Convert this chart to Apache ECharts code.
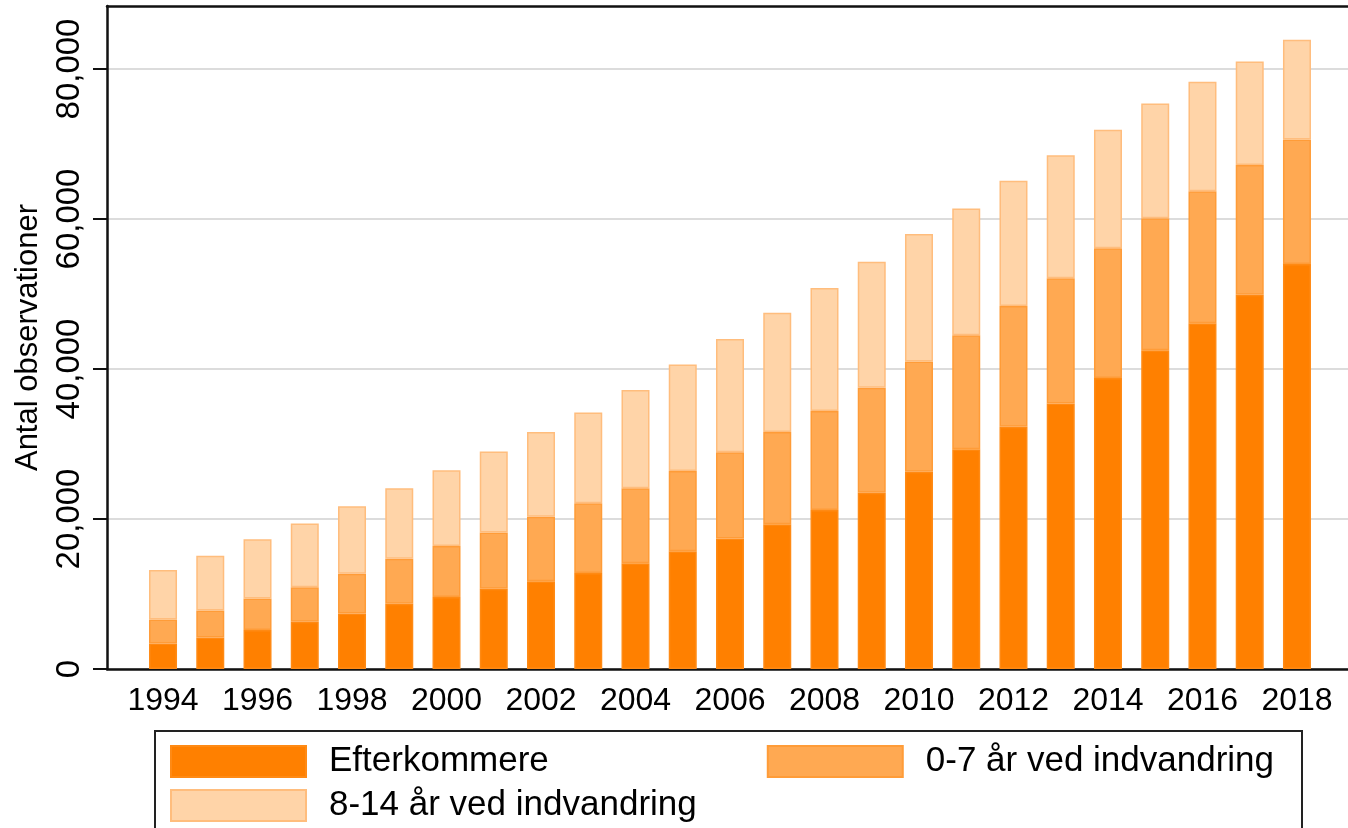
<!DOCTYPE html>
<html>
<head>
<meta charset="utf-8">
<script src="https://cdn.jsdelivr.net/npm/echarts@6/dist/echarts.min.js"></script>
<style>
  html, body { margin: 0; padding: 0; background: #fff; }
  #chart { width: 1348px; height: 828px; }
</style>
</head>
<body>
<div id="chart"></div>
<script>
const years = ['1994', '1995', '1996', '1997', '1998', '1999', '2000', '2001', '2002', '2003', '2004', '2005',
  '2006', '2007', '2008', '2009', '2010', '2011', '2012', '2013', '2014', '2015', '2016', '2017', '2018'];
const yTicks = [0, 20000, 40000, 60000, 80000];

// bund: efterkommere
const efterkommere = [3400, 4200, 5200, 6300, 7400, 8700, 9600, 10700, 11700, 12800, 14100, 15700,
  17400, 19300, 21200, 23500, 26300, 29300, 32300, 35400, 38800, 42500, 46100, 49900, 54000];
// midten: 0-7 aar ved indvandring
const aar0til7 = [3200, 3600, 4200, 4600, 5300, 6000, 6800, 7500, 8600, 9300, 10000, 10700,
  11500, 12300, 13200, 14000, 14700, 15200, 16100, 16700, 17300, 17600, 17600, 17300, 16600];
// top: 8-14 aar ved indvandring
const aar8til14 = [6600, 7300, 7900, 8500, 9000, 9400, 10100, 10800, 11300, 12100, 13100, 14200,
  15100, 15900, 16400, 16800, 17000, 16900, 16700, 16400, 15800, 15300, 14600, 13800, 13300];

const names = ['Efterkommere', '0-7 år ved indvandring', '8-14 år ved indvandring'];
const fills = ['#ff8000', '#ffa952', '#ffd4a8'];
const borders = ['#ff8a14', '#ff9c38', '#ffbd7d'];

const yMax = 88400;
const font = 'Liberation Sans, Arial, sans-serif';
const chart = echarts.init(document.getElementById('chart'));

function makeSeries(i, vals) {
  return {
    name: names[i],
    type: 'bar',
    stack: 'total',
    xAxisIndex: 1,
    yAxisIndex: 1,
    barWidth: 28,
    data: vals,
    itemStyle: { color: fills[i], borderColor: borders[i], borderWidth: 1.5 },
    emphasis: { disabled: true }
  };
}

const legendText = { fontSize: 35, fontFamily: font, color: '#000', padding: [0, 0, 0, 18] };
const blackLine = { show: true, lineStyle: { color: '#111', width: 2.5 } };

chart.setOption({
  animation: false,
  grid: [
    // ramme + y-akse
    { left: 107, top: 6, right: 0, bottom: 159 },
    // soejler
    { left: 139.4, top: 6, right: 27.4, bottom: 159 }
  ],
  xAxis: [
    {
      gridIndex: 0, type: 'value', min: 0, max: 1,
      axisLine: blackLine,
      axisTick: { show: false }, axisLabel: { show: false }, splitLine: { show: false }
    },
    {
      gridIndex: 1, type: 'category', data: years,
      axisLine: { show: false }, axisTick: { show: false },
      axisLabel: { interval: 1, fontSize: 32, fontFamily: font, color: '#000', margin: 16 }
    },
    {
      // topkant
      gridIndex: 0, type: 'value', position: 'top', min: 0, max: 1,
      axisLine: blackLine,
      axisTick: { show: false }, axisLabel: { show: false }, splitLine: { show: false }
    }
  ],
  yAxis: [
    {
      gridIndex: 0, type: 'value', min: 0, max: yMax,
      name: 'Antal observationer',
      nameLocation: 'middle',
      nameRotate: 90,
      nameGap: 63,
      nameTextStyle: { fontSize: 31, fontFamily: font, color: '#000' },
      axisLine: blackLine,
      axisTick: { show: true, customValues: yTicks, length: 14, lineStyle: { color: '#111', width: 2 } },
      splitLine: { show: true, lineStyle: { color: '#dcdcdc', width: 2 } },
      axisLabel: {
        customValues: yTicks,
        rotate: 90,
        formatter: v => v.toLocaleString('en-US'),
        fontSize: 33, fontFamily: font, color: '#000', margin: 21
      }
    },
    {
      gridIndex: 1, type: 'value', min: 0, max: yMax, show: false
    }
  ],
  legend: [
    {
      data: [names[0], names[1]],
      left: 165, top: 739,
      itemWidth: 135, itemHeight: 31, itemGap: 218,
      icon: 'rect',
      selectedMode: false,
      textStyle: legendText
    },
    {
      data: [names[2]],
      left: 165, top: 783,
      itemWidth: 135, itemHeight: 31,
      icon: 'rect',
      selectedMode: false,
      textStyle: legendText
    }
  ],
  graphic: [{
    type: 'rect',
    shape: { x: 155, y: 731, width: 1147, height: 130 },
    style: { fill: 'none', stroke: '#222', lineWidth: 2 },
    silent: true
  }],
  series: [
    makeSeries(0, efterkommere),
    makeSeries(1, aar0til7),
    makeSeries(2, aar8til14)
  ]
});
</script>
</body>
</html>
